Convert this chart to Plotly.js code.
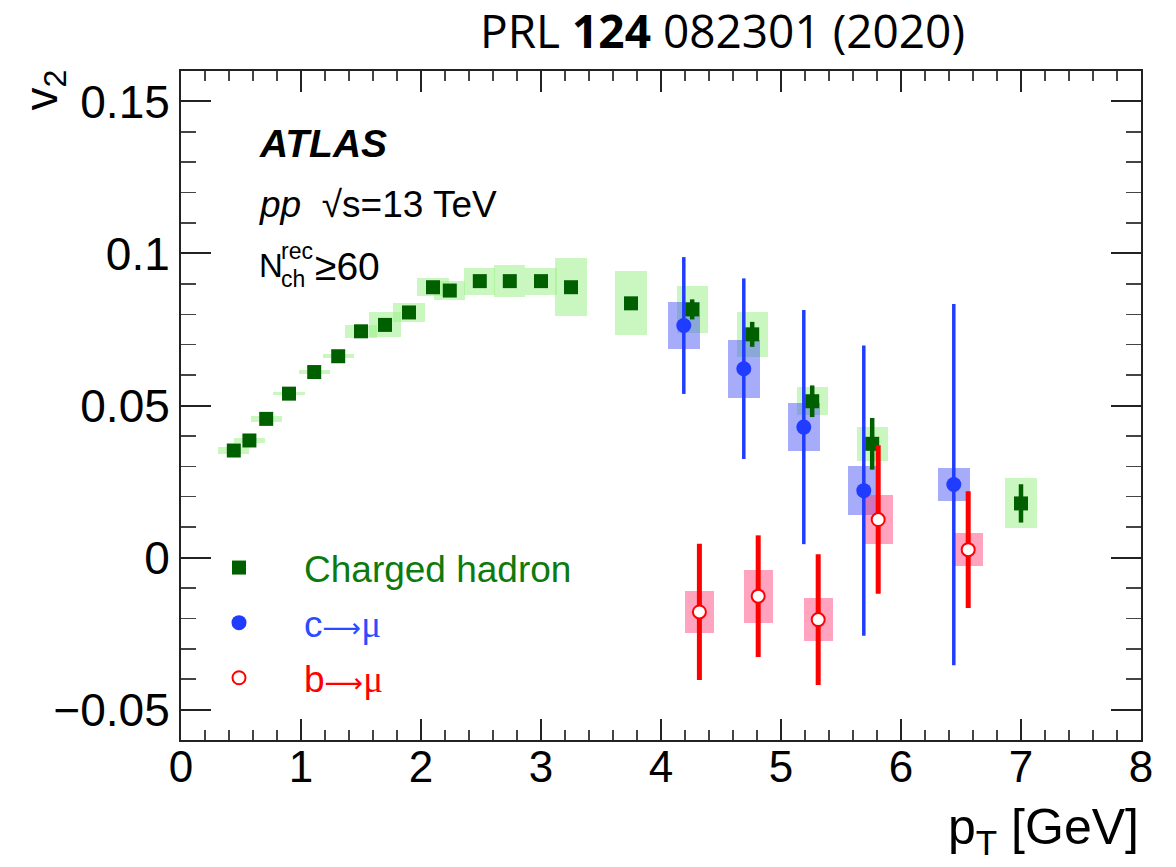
<!DOCTYPE html>
<html>
<head>
<meta charset="utf-8">
<script src="https://cdn.plot.ly/plotly-3.0.1.min.js"></script>
<style>
  html, body { margin: 0; padding: 0; background: #fff; }
  #chart { width: 1176px; height: 867px; }
</style>
</head>
<body>
<div id="chart"></div>
<script>
// Charged hadrons: pT [GeV], v2, statistical and systematic uncertainties
const ptHadron   = [0.44, 0.57, 0.71, 0.90, 1.11, 1.31, 1.50, 1.70, 1.90, 2.10, 2.24, 2.49, 2.74, 3.00, 3.25, 3.75, 4.26, 4.76, 5.26, 5.76, 7.00];
const v2Hadron   = [0.0352, 0.0385, 0.0456, 0.0539, 0.0610, 0.0662, 0.0744, 0.0765, 0.0806, 0.0889, 0.0878, 0.0909, 0.0909, 0.0909, 0.0889, 0.0836, 0.0816, 0.0734, 0.0514, 0.0374, 0.0178];
const statHadron = [0.0004, 0.0004, 0.0004, 0.0004, 0.0004, 0.0004, 0.0005, 0.0005, 0.0006, 0.0006, 0.0007, 0.0007, 0.0008, 0.0009, 0.0012, 0.0018, 0.0033, 0.0041, 0.0052, 0.0085, 0.0063];
const systHadron = [0.0012, 0.0008, 0.0010, 0.0006, 0.0006, 0.0006, 0.0022, 0.0041, 0.0032, 0.0030, 0.0030, 0.0044, 0.0053, 0.0044, 0.0096, 0.0105, 0.0077, 0.0073, 0.0046, 0.0055, 0.0082];

// Muons from charm decays
const ptCharm   = [4.19, 4.69, 5.19, 5.69, 6.44];
const v2Charm   = [0.0763, 0.0621, 0.0429, 0.0220, 0.0240];
const statCharm = [0.0225, 0.0297, 0.0385, 0.0477, 0.0594];
const systCharm = [0.0077, 0.0095, 0.0078, 0.0081, 0.0054];

// Muons from bottom decays
const ptBottom   = [4.32, 4.81, 5.31, 5.81, 6.56];
const v2Bottom   = [-0.0179, -0.0127, -0.0204, 0.0125, 0.0026];
const statBottom = [0.0224, 0.0200, 0.0215, 0.0244, 0.0192];
const systBottom = [0.0070, 0.0087, 0.0072, 0.0082, 0.0054];

const FONT = 'Liberation Sans, Arial, Helvetica, sans-serif';
const ARROW = '<span style="font-family:DejaVu Sans;font-size:27px">\u27f6</span>';
const MU = '<span style="font-family:Liberation Serif">\u03bc</span>';

const labelHadron = 'Charged hadron';
const labelCharm  = 'c' + ARROW + MU;
const labelBottom = 'b' + ARROW + MU;

// systematic boxes as bars spanning v2 +- syst
function systBox(x, y, s, w, fill) {
  return {
    type: 'bar', x: x,
    y: s.map(v => 2 * v),
    base: y.map((v, i) => v - s[i]),
    width: x.map(() => w),
    marker: { color: fill, line: { width: 0 } },
    showlegend: false, hoverinfo: 'skip'
  };
}

function points(x, y, e, name, color, marker, thick, group) {
  return {
    type: 'scatter', mode: 'markers', x: x, y: y, name: name,
    legendgroup: group,
    marker: marker,
    error_y: { type: 'data', array: e, visible: true, color: color, thickness: thick, width: 0 },
    hoverinfo: 'x+y'
  };
}

const data = [
  systBox(ptHadron, v2Hadron, systHadron, 0.26, 'rgba(150,240,130,0.5)'),
  systBox(ptCharm, v2Charm, systCharm, 0.265, 'rgba(60,70,245,0.45)'),
  systBox(ptBottom, v2Bottom, systBottom, 0.24, 'rgba(255,50,110,0.45)'),
  points(ptHadron, v2Hadron, statHadron,
         '<span style="color:#0d7a0d">' + labelHadron + '</span>', '#006000',
         { symbol: 'square', size: 14, color: '#006000' }, 4.5, 'h'),
  points(ptCharm, v2Charm, statCharm,
         '<span style="color:#2a4bff">' + labelCharm + '</span>', '#1f3cff',
         { symbol: 'circle', size: 15, color: '#1f3cff' }, 3.5, 'c'),
  points(ptBottom, v2Bottom, statBottom,
         '<span style="color:#ff0000">' + labelBottom + '</span>', '#ff0000',
         { symbol: 'circle', size: 13, color: '#ffffff', line: { color: '#ff0000', width: 2 } }, 5, 'b')
];

const L = 181, R = 1141, T = 71, B = 740;
const px = v => (v - L) / (R - L);
const py = v => (B - v) / (B - T);

const layout = {
  width: 1176, height: 867,
  margin: { l: L, r: 1176 - R, t: T, b: 867 - B },
  paper_bgcolor: '#ffffff', plot_bgcolor: '#ffffff',
  barmode: 'overlay',
  bargap: 0,
  font: { family: FONT, color: '#000' },
  xaxis: {
    range: [0, 8], tick0: 0, dtick: 1,
    ticks: 'inside', ticklen: 21, tickwidth: 2, tickcolor: '#222',
    minor: { ticks: 'inside', dtick: 0.2, ticklen: 10, tickwidth: 1.5, tickcolor: '#444' },
    showline: true, linecolor: '#222', linewidth: 2, mirror: 'allticks',
    showgrid: false, zeroline: false,
    tickfont: { family: FONT, size: 44, color: '#000' },
    ticklabelstandoff: -13
  },
  yaxis: {
    range: [-0.06, 0.16], tick0: 0, dtick: 0.05,
    ticks: 'inside', ticklen: 30, tickwidth: 2, tickcolor: '#222',
    minor: { ticks: 'inside', dtick: 0.01, ticklen: 15, tickwidth: 1.5, tickcolor: '#444' },
    showline: true, linecolor: '#222', linewidth: 2, mirror: 'allticks',
    showgrid: false, zeroline: false,
    tickfont: { family: FONT, size: 46, color: '#000' },
    ticklabelstandoff: 0
  },
  legend: {
    x: px(174), xanchor: 'left', y: py(537), yanchor: 'top',
    bgcolor: 'rgba(0,0,0,0)', borderwidth: 0,
    itemwidth: 120, traceorder: 'grouped', tracegroupgap: 4,
    font: { family: FONT, size: 37 }
  },
  annotations: [
    // publication reference above the frame
    { xref: 'paper', yref: 'paper', x: px(722), y: py(30), xanchor: 'center', yanchor: 'middle',
      showarrow: false, text: 'PRL <b>124</b> 082301 (2020)',
      font: { family: 'Open Sans, sans-serif', size: 46, color: '#000' } },
    { xref: 'paper', yref: 'paper', x: px(257), y: py(144), xanchor: 'left', yanchor: 'middle',
      showarrow: false, text: '<b><i>ATLAS</i></b>', font: { family: FONT, size: 39, color: '#000' } },
    { xref: 'paper', yref: 'paper', x: px(257), y: py(204), xanchor: 'left', yanchor: 'middle',
      showarrow: false, text: '<i>pp</i>  \u221As=13 TeV', font: { family: FONT, size: 37, color: '#000' } },
    { xref: 'paper', yref: 'paper', x: px(257), y: py(265), xanchor: 'left', yanchor: 'middle',
      showarrow: false, text: 'N', font: { family: FONT, size: 33, color: '#000' } },
    { xref: 'paper', yref: 'paper', x: px(279), y: py(251), xanchor: 'left', yanchor: 'middle',
      showarrow: false, text: 'rec', font: { family: FONT, size: 23, color: '#000' } },
    { xref: 'paper', yref: 'paper', x: px(279), y: py(279), xanchor: 'left', yanchor: 'middle',
      showarrow: false, text: 'ch', font: { family: FONT, size: 23, color: '#000' } },
    { xref: 'paper', yref: 'paper', x: px(313), y: py(266), xanchor: 'left', yanchor: 'middle',
      showarrow: false, text: '\u226560', font: { family: FONT, size: 39, color: '#000' } },
    // axis titles
    { xref: 'paper', yref: 'paper', x: px(44), y: py(68), xanchor: 'center', yanchor: 'top',
      showarrow: false, textangle: -90, text: 'v<sub>2</sub>', font: { family: FONT, size: 46, color: '#000' } },
    { xref: 'paper', yref: 'paper', x: 1, y: py(830), xanchor: 'right', yanchor: 'middle',
      showarrow: false, text: 'p<sub>T</sub> [GeV]', font: { family: FONT, size: 50, color: '#000' } }
  ]
};

Plotly.newPlot('chart', data, layout, { displayModeBar: false, staticPlot: true });
</script>
</body>
</html>
